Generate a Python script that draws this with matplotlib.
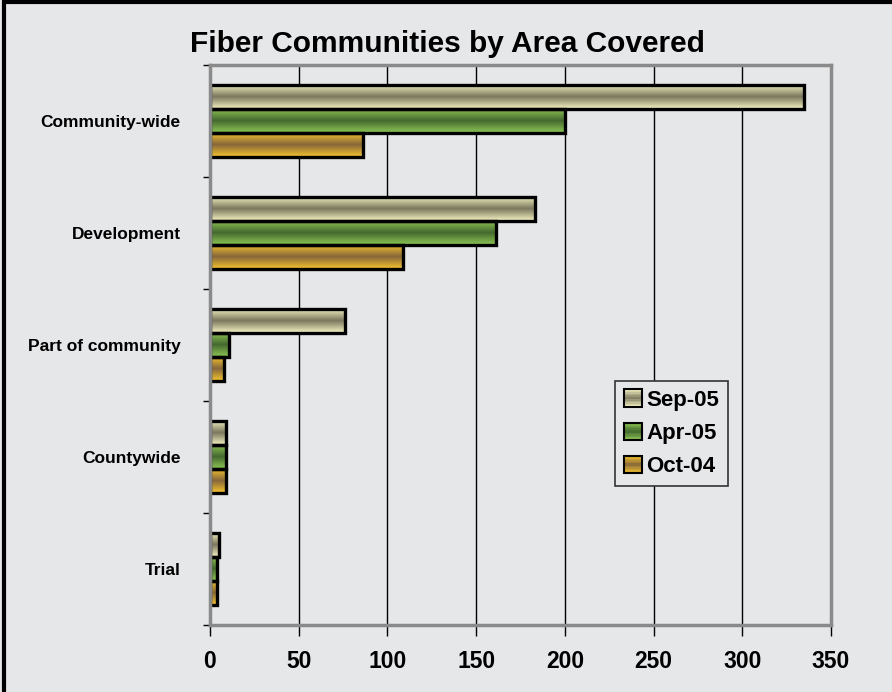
import numpy as np
import matplotlib
matplotlib.use("Agg")
import matplotlib.pyplot as plt
from matplotlib.patches import Rectangle
from matplotlib.legend_handler import HandlerBase
from matplotlib.colors import LinearSegmentedColormap

categories = ["Community-wide", "Development", "Part of community", "Countywide", "Trial"]
series = ["Sep-05", "Apr-05", "Oct-04"]
sep05 = [335, 183, 76, 9, 5]
apr05 = [200, 161, 11, 9, 4]
oct04 = [86, 109, 8, 9, 4]
xticks = [0, 50, 100, 150, 200, 250, 300, 350]

# light / dark shades for the tube-like gradient
shades = {
    "Sep-05": ("#F6F4C4", "#7A775E"),
    "Apr-05": ("#8DC655", "#45692E"),
    "Oct-04": ("#F6C52E", "#86673A"),
}

bg = "#E6E7E9"
plt.rcParams["font.family"] = ["Liberation Sans", "DejaVu Sans"]


def make_cmap(name):
    light, dark = shades[name]
    return LinearSegmentedColormap.from_list(
        name, [(0, light), (0.5, dark), (1, light)])


fig = plt.figure(figsize=(8.92, 6.92), dpi=100, facecolor=bg)
ax = fig.add_axes([0.2354, 0.0968, 0.6962, 0.809], facecolor=bg)

h = 0.215
y = np.arange(len(categories))
grad = np.linspace(0, 1, 64).reshape(-1, 1)

for i, (name, vals) in enumerate(zip(series, [sep05, apr05, oct04])):
    cmap = make_cmap(name)
    bars = ax.barh(y + (i - 1) * h, vals, height=h, facecolor="none",
                   edgecolor="black", linewidth=2.4, zorder=4)
    for b in bars:
        x0, y0 = b.get_x(), b.get_y()
        im = ax.imshow(grad, cmap=cmap, aspect="auto", interpolation="bilinear",
                       extent=[x0, x0 + b.get_width(), y0 + b.get_height(), y0],
                       zorder=3)
        im.set_clip_path(b)

ax.set_xlim(0, 350)
ax.set_ylim(4.5, -0.5)
ax.set_xticks(xticks)
ax.set_xticklabels([str(t) for t in xticks], fontsize=16.5, fontweight="bold")
ax.set_yticks(y)
ax.set_yticklabels(categories, fontsize=12.5, fontweight="bold")
ax.set_yticks(np.arange(-0.5, 5, 1), minor=True)
ax.tick_params(axis="y", which="major", length=0, pad=21)
ax.tick_params(axis="y", which="minor", length=5, width=1, color="black")
ax.tick_params(axis="x", length=8, width=1, color="black", pad=10)
ax.grid(axis="x", color="black", linewidth=1, zorder=1)
ax.set_axisbelow(True)
for s in ax.spines.values():
    s.set_color("#8A8A8A")
    s.set_linewidth(2.5)
    s.set_zorder(5)

fig.text(0.502, 0.937, "Fiber Communities by Area Covered", fontsize=21.5,
         fontweight="bold", ha="center", va="center")


class GradHandler(HandlerBase):
    def create_artists(self, legend, orig, xd, yd, width, height, fontsize, trans):
        cmap = make_cmap(orig.get_label())
        side = height * 1.1
        x0 = xd + width - side
        y0 = yd + (height - side) / 2
        arts = []
        n = 12
        for k in range(n):
            arts.append(Rectangle((x0, y0 + side * k / n), side, side / n + 0.2,
                                  facecolor=cmap(1 - (k + 0.5) / n),
                                  edgecolor="none", transform=trans))
        arts.append(Rectangle((x0, y0), side, side, facecolor="none",
                              edgecolor="black", linewidth=1.5, transform=trans))
        return arts


handles = [Rectangle((0, 0), 1, 1, label=n) for n in series]
leg = ax.legend(handles=handles, labels=series, loc="upper left",
                bbox_to_anchor=(0.652, 0.436), borderaxespad=0,
                handler_map={Rectangle: GradHandler()},
                prop={"size": 16, "weight": "bold"}, frameon=True, fancybox=False,
                edgecolor="#333333", facecolor=bg, framealpha=1,
                handlelength=0.8, handletextpad=0.2, labelspacing=0.55,
                borderpad=0.4)
leg.get_frame().set_linewidth(1.2)
leg.set_zorder(6)

fig.patches.append(Rectangle((0.005, -0.1), 1.2, 1.0965, transform=fig.transFigure,
                             facecolor="none", edgecolor="black", linewidth=3))

fig.savefig("out.png", dpi=100, facecolor=bg)
